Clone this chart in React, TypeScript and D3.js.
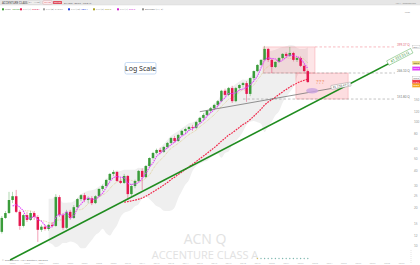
import React from 'react';
import * as d3 from 'd3';

// Quarterly candles (ACN), prices
const open = [12.9,16.7,18.3,23.3,25.0,18.7,14.4,17.6,16.1,18.3,
 17.0,13.4,14.2,13.6,14.7,14.4,24.6,17.6,13.9,18.7,
 16.7,20.4,23.7,25.5,23.3,24.1,22.0,25.0,28.6,30.2,
 33.8,37.8,39.2,33.2,32.0,36.4,26.0,30.2,33.2,40.0,
 35.7,43.8,50.8,55.8,59.0,56.9,62.3,67.2,73.6,69.7,
 78.0,84.0,87.0,90.4,89.0,99.0,107,113,122,128,
 136,146,177,164,186,146,186,197,204,167,
 224,255,286,314,385,314,275,302,325,351,
 338,357,314,325,281,255];
const high = [17.3,19.0,27.1,27.1,28.1,19.4,18.0,18.7,19.0,19.0,
 17.6,14.7,14.7,15.0,15.5,26.0,25.5,18.3,19.4,19.4,
 21.2,24.1,26.0,26.5,25.0,25.0,25.5,29.0,31.0,34.5,
 38.5,40.7,40.0,35.0,37.8,37.1,31.4,34.0,40.7,42.0,
 44.6,51.5,56.9,60.5,61.5,63.5,68.4,75.0,76.5,79.5,
 85.5,89.0,92.0,94.0,101,109,117,124,131,139,
 149,180,184,190,194,190,200,208,212,226,
 258,290,318,407,392,320,305,331,355,362,
 399,365,331,335,290,262];
const low = [12.5,16.4,18.0,22.0,18.3,13.4,14.0,15.5,15.8,16.1,
 10.7,12.9,13.2,13.2,14.0,14.2,17.0,13.4,13.6,16.1,
 16.4,19.8,22.8,22.4,22.0,21.2,21.6,24.6,27.6,29.6,
 33.2,36.4,32.6,31.4,31.4,23.3,25.0,29.0,32.6,28.1,
 35.0,43.0,49.5,54.5,54.5,55.8,61.0,66.0,67.2,68.4,
 76.5,80.0,84.0,84.0,87.0,97.0,103,111,118,124,
 133,143,160,160,141,143,180,188,144,160,
 216,250,280,310,302,246,270,297,319,330,
 331,305,302,275,250,205];
const close = [16.7,18.3,23.3,25.0,18.7,14.4,17.6,16.1,18.3,17.0,
 13.4,14.2,13.6,14.7,14.4,24.6,17.6,13.9,18.7,16.7,
 20.4,23.7,25.5,23.3,24.1,22.0,25.0,28.6,30.2,33.8,
 37.8,39.2,33.2,32.0,36.4,26.0,30.2,33.2,40.0,35.7,
 43.8,50.8,55.8,59.0,56.9,62.3,67.2,73.6,69.7,78.0,
 84.0,87.0,90.4,89.0,99.0,107,113,122,128,136,
 146,177,164,186,146,186,197,204,167,224,
 255,286,314,385,314,275,302,325,351,338,
 357,314,325,281,255,208];

const yearLabels = ['2002','2003','2004','2005','2006','2007','2008','2009','2010','2011','2012','2013','2014','2015','2016','2017','2018','2019','2020','2021','2022','2023','2024','2025','2026','2027','2028','2029'];
const axisTicks = [400, 300, 200, 150, 120, 100, 80, 60, 50, 40, 30, 25, 20, 15, 12, 10];

// annotations in (quarter index, price)
const greenTrend: [number, number][] = [[2.3, 7.65], [114, 367]];
const grayTrend: [number, number][] = [[55, 120], [97, 197]];
const topBox = { i0: 72.6, i1: 87, p0: 399.37, p1: 246.1 };
const lowBox = { i0: 81.7, i1: 96.2, p0: 246.1, p1: 151.8 };
const levels = [
  { p: 399.37, i0: 87, label: '399.37 Q', color: '#f28b96' },
  { p: 246.1, i0: 72.6, label: '246.10 Q', color: '#9a9a9a' },
  { p: 151.8, i0: 67, label: '151.80 Q', color: '#9a9a9a' },
];
const ellipse = { i: 86.2, p: 177 };
const question = { i: 88.4, p: 200, text: '???' };
const greenLabel = '#1 333.35 Q';
const grayLabel = '#1 158.47 Q';

const legendItems = [
  { x: 2, color: '#3aa03a', name: 'Price', value: '257.87' },
  { x: 20, color: '#e5174f', name: 'MA (4)', value: '293.81' },
  { x: 43, color: '#a0a0a0', name: 'MA (8)', value: '318.02' },
  { x: 68, color: '#2040e0', name: 'MA (13)', value: '287.4' },
  { x: 93, color: '#a8a020', name: 'MA (7)', value: '296.9' },
  { x: 117, color: '#d020d0', name: 'MA (4)', value: '267.2' },
  { x: 142, color: '#909090', name: 'Bollinger (14, 2)', value: '' },
];

function sma(arr: number[], n: number): (number | null)[] {
  return arr.map((_, i) => (i < n - 1 ? null : d3.mean(arr.slice(i - n + 1, i + 1)) as number));
}

export default function App() {
  const W = 420, H = 265;
  const x = d3.scaleLinear().domain([0, 114]).range([1.8, 412.2]);
  const y = d3.scaleLog().domain([8, 600]).range([257.6, 25]);
  const cw = 2.5;

  const ma4 = sma(close, 4);
  const ma7 = sma(close, 7);
  const ma35 = sma(close, 35);
  const bbN = 14;
  const bb = close.map((_, i) => {
    if (i < bbN - 1) return null;
    const s = close.slice(i - bbN + 1, i + 1);
    const m = d3.mean(s) as number;
    const sd = Math.sqrt(d3.mean(s.map(v => (v - m) ** 2)) as number);
    return { i, up: m + 2 * sd, lo: Math.max(m - 2 * sd, 7) };
  }).filter(Boolean) as { i: number; up: number; lo: number }[];

  const bbArea = d3.area<{ i: number; up: number; lo: number }>()
    .x(d => x(d.i)).y0(d => y(d.lo)).y1(d => y(d.up)).curve(d3.curveMonotoneX)(bb) || '';

  const maLine = (arr: (number | null)[]) =>
    d3.line<number | null>().defined(d => d != null).x((_, i) => x(i)).y(d => y(d as number)).curve(d3.curveMonotoneX)(arr) || '';

  const trendPath = (t: [number, number][]) => d3.line<[number, number]>().x(d => x(d[0])).y(d => y(d[1]))(t) || '';

  const angle = (t: [number, number][]) =>
    (Math.atan2(y(t[1][1]) - y(t[0][1]), x(t[1][0]) - x(t[0][0])) * 180) / Math.PI;

  const gA = angle(greenTrend), grA = angle(grayTrend);
  const gEnd = [x(greenTrend[1][0]), y(greenTrend[1][1])];
  const grEnd = [x(grayTrend[1][0]), y(grayTrend[1][1])];
  const last = close.length - 1;
  const tagsRaw = [
    { p: 399.37, fill: '#ffffff', stroke: '#aaa', tc: '#666' },
    { p: ma7[last] as number, fill: '#e8d67a', stroke: '#e8d67a', tc: '#333' },
    { p: ma4[last] as number, fill: '#e040fb', stroke: '#e040fb', tc: '#fff' },
    { p: ma35[last] as number, fill: '#f23645', stroke: '#f23645', tc: '#fff' },
    { p: close[last], fill: '#f5a623', stroke: '#f5a623', tc: '#fff' },
    { p: bb[bb.length - 1].lo, fill: '#ffffff', stroke: '#aaa', tc: '#666' },
  ];
  // stack tags so they do not overlap
  const tagH = 3.4;
  const tags = tagsRaw.map(t => ({ ...t, cy: y(t.p) })).sort((a, b) => a.cy - b.cy);
  for (let k = 1; k < tags.length; k++) {
    if (tags[k].cy - tags[k - 1].cy < tagH + 0.2) tags[k].cy = tags[k - 1].cy + tagH + 0.2;
  }
  // hide axis tick labels hidden behind tags
  const visibleTicks = axisTicks.filter(t => tags.every(tg => Math.abs(y(t) - tg.cy) > 3.6));
  const font = 'Lato, "Noto Sans", sans-serif';

  return (
    <svg width={W} height={H} style={{ position: 'absolute', left: 0, top: 0, background: '#fff' }} fontFamily={font}>
      <defs>
        <clipPath id="plot"><rect x={0} y={13} width={396} height={248} /></clipPath>
      </defs>
      {/* header */}
      <rect x={0} y={0} width={W} height={5} fill="#e6e6e6" />
      <text x={2} y={3.6} fontSize={2.8} fill="#444">ACCENTURE CLASS A</text>
      <rect x={28} y={0.9} width={12} height={3.2} fill="#f4f4f4" stroke="#c4c4c4" strokeWidth={0.3} rx={0.5} />
      <text x={34} y={3.4} fontSize={2.3} fill="#777" textAnchor="middle">3M · NYSE</text>
      <rect x={43} y={0.9} width={9} height={3.2} fill="#fff" stroke="#e05060" strokeWidth={0.3} rx={0.5} />
      <text x={47.5} y={3.4} fontSize={2.3} fill="#e05060" textAnchor="middle">257.86</text>
      <rect x={53} y={0.9} width={9} height={3.2} fill="#e05060" rx={0.5} />
      <text x={57.5} y={3.4} fontSize={2.3} fill="#fff" textAnchor="middle">257.87</text>
      <text x={64} y={3.6} fontSize={2.5} fill="#666">87.78m  −80.69  −23.84%</text>
      <text x={416} y={3.6} fontSize={2.5} fill="#888" textAnchor="end">ACN · TradingView</text>
      <line x1={0} x2={W} y1={5} y2={5} stroke="#d0d0d0" strokeWidth={0.4} />
      {/* legend row */}
      {legendItems.map((l, k) => (
        <g key={k}>
          <rect x={l.x} y={8.3} width={2} height={2} fill={l.color} />
          <text x={l.x + 3} y={10.2} fontSize={2.6} fill="#777">{l.name}</text>
          <text x={l.x + 3 + l.name.length * 1.45} y={10.2} fontSize={2.6} fill={l.color}>{l.value}</text>
        </g>
      ))}
      <text x={410} y={12.5} fontSize={2.6} fill="#999" textAnchor="end">USD</text>

      {/* watermark */}
      <text x={205} y={244} fontSize={14} fill="#e2e2e2" textAnchor="middle" fontFamily='"Open Sans", sans-serif'>ACN  Q</text>
      <text x={205} y={258.5} fontSize={11} fill="#e2e2e2" textAnchor="middle" fontFamily='"Open Sans", sans-serif'>ACCENTURE CLASS A</text>

      <g clipPath="url(#plot)">
        <path d={bbArea} fill="#efefef" />
        {/* boxes */}
        <rect x={x(topBox.i0)} y={y(topBox.p0)} width={x(topBox.i1) - x(topBox.i0)} height={y(topBox.p1) - y(topBox.p0)}
          fill="rgba(242,54,69,0.13)" stroke="rgba(242,54,69,0.35)" strokeWidth={0.6} />
        <rect x={x(lowBox.i0)} y={y(lowBox.p0)} width={x(lowBox.i1) - x(lowBox.i0)} height={y(lowBox.p1) - y(lowBox.p0)}
          fill="rgba(242,54,69,0.17)" stroke="rgba(242,54,69,0.35)" strokeWidth={0.6} />
        {levels.map((l, k) => (
          <line key={k} x1={x(l.i0)} x2={395} y1={y(l.p)} y2={y(l.p)} stroke={l.color} strokeWidth={0.6} strokeDasharray="2.5,2" />
        ))}
        {/* moving averages */}
        <path d={maLine(ma7)} fill="none" stroke="#d9c77e" strokeWidth={0.8} strokeDasharray="0.8,0.9" />
        <path d={maLine(ma35)} fill="none" stroke="#f0284a" strokeWidth={1.2} strokeDasharray="1.8,1" />
        {/* candles */}
        {close.map((c, i) => {
          const up = c >= open[i];
          const col = up ? '#3a9c3a' : '#e5174f';
          const yt = y(Math.max(c, open[i])), yb = y(Math.min(c, open[i]));
          return (
            <g key={i}>
              <line x1={x(i)} x2={x(i)} y1={y(high[i])} y2={y(low[i])} stroke={col} strokeWidth={0.5} opacity={0.8} />
              <rect x={x(i) - cw / 2} y={yt} width={cw} height={Math.max(yb - yt, 0.7)} fill={col} />
            </g>
          );
        })}
        <path d={maLine(ma4)} fill="none" stroke="#e040fb" strokeWidth={1.1} strokeDasharray="1.4,0.8" />
        {/* trend lines */}
        <path d={trendPath(grayTrend)} stroke="#666" strokeWidth={0.7} fill="none" />
        <path d={trendPath(greenTrend)} stroke="#1f8c1f" strokeWidth={1.5} fill="none" />
        <ellipse cx={x(ellipse.i)} cy={y(ellipse.p)} rx={6} ry={2.8} fill="#c9a3e0" opacity={0.8} />
        <text x={x(question.i)} y={y(question.p)} fontSize={6.5} fill="#f0906a" textAnchor="middle">{question.text}</text>
      </g>

      {/* trend labels */}
      <g transform={`translate(${gEnd[0]},${gEnd[1]}) rotate(${gA})`}>
        <rect x={-27} y={-3.4} width={27} height={5} fill="#fff" stroke="#3aa03a" strokeWidth={0.4} />
        <text x={-13.5} y={0.5} fontSize={3.6} fill="#2a8a2a" textAnchor="middle">{greenLabel}</text>
      </g>
      <g transform={`translate(${grEnd[0]},${grEnd[1]}) rotate(${grA})`}>
        <rect x={-20} y={-3} width={20} height={4} fill="#fff" stroke="#888" strokeWidth={0.4} rx={0.5} />
        <text x={-10} y={0.1} fontSize={3} fill="#555" textAnchor="middle">{grayLabel}</text>
      </g>
      {levels.map((l, k) => (
        <text key={k} x={397} y={y(l.p) - 0.8} fontSize={3} fill={l.color === '#9a9a9a' ? '#777' : '#e06070'}>{l.label}</text>
      ))}

      {/* right axis */}
      {visibleTicks.map(t => (
        <text key={t} x={414} y={y(t) + 1} fontSize={3} fill="#999">{t}</text>
      ))}
      {tags.map((t, k) => (
        <g key={k}>
          <rect x={412.5} y={t.cy - tagH / 2} width={7.5} height={tagH} fill={t.fill} stroke={t.stroke} strokeWidth={0.3} />
          <text x={416.2} y={t.cy + 0.85} fontSize={2.3} fill={t.tc} textAnchor="middle">{t.p.toFixed(1)}</text>
        </g>
      ))}

      {/* bottom */}
      {close.slice(71).map((_, k) => (
        <circle key={k} cx={x(71 + k)} cy={258.5} r={0.7} fill={k === 0 ? '#d8c060' : '#7fb8b0'} />
      ))}
      {yearLabels.map((yl, k) => (
        <text key={yl} x={x(3 + 4 * k)} y={263.5} fontSize={2.6} fill="#bdbdbd" textAnchor="middle">{yl}</text>
      ))}
      <text x={2} y={260.5} fontSize={2.6} fill="#777">© TradingView · ACN quarterly, log scale</text>
      <line x1={411} x2={411} y1={250} y2={263} stroke="#bbb" strokeWidth={0.4} strokeDasharray="1,1" />

      {/* Log Scale button */}
      <rect x={125} y={62.5} width={31} height={11.5} rx={1.5} fill="#fff" stroke="#b7d0f0" strokeWidth={0.8} />
      <text x={140.5} y={70.8} fontSize={7} fill="#333" textAnchor="middle" fontFamily='"Noto Sans", sans-serif'>Log Scale</text>
    </svg>
  );
}
